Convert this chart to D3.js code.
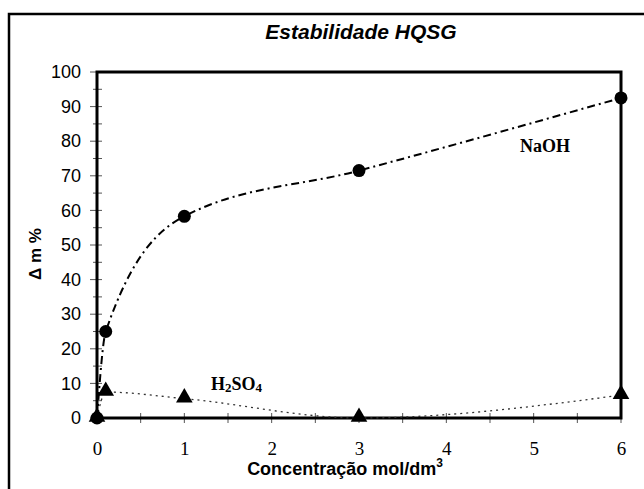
<!DOCTYPE html>
<html>
<head>
<meta charset="utf-8">
<script src="https://cdn.jsdelivr.net/npm/d3@7"></script>
<style>
html,body{margin:0;padding:0;background:#fff;}
svg{display:block;}
</style>
</head>
<body>
<svg id="chart" width="644" height="489"></svg>
<script>
// Data
const concentrations = [0, 0.1, 1, 3, 6];
const naohValues = [0, 25, 58.3, 71.5, 92.5];
const h2so4Values = [0, 7.5, 5.6, 0, 6.6];
const xTicks = [0, 1, 2, 3, 4, 5, 6];
const yTicks = [0, 10, 20, 30, 40, 50, 60, 70, 80, 90, 100];
const titleText = "Estabilidade HQSG";
const xTitle = "Concentração mol/dm";
const yTitle = "Δ m %";

const svg = d3.select("#chart");
const m = {left: 97, right: 621, top: 72, bottom: 418};

// outer border
svg.append("rect").attr("x", 9).attr("y", 14).attr("width", 700).attr("height", 600)
  .attr("fill", "none").attr("stroke", "#000").attr("stroke-width", 2.5);

const x = d3.scaleLinear().domain([0, 6]).range([m.left, m.right]);
const y = d3.scaleLinear().domain([0, 100]).range([m.bottom, m.top]);

// title
svg.append("text").attr("x", 361).attr("y", 39).attr("text-anchor", "middle")
  .attr("font-family", "Liberation Sans, Arial, sans-serif").attr("font-size", 21)
  .attr("font-weight", "bold").attr("font-style", "italic").text(titleText);

// minor / major ticks
const g = svg.append("g");
const yMinor = d3.range(0, 101, 5);
g.selectAll("line.ym").data(yMinor).enter().append("line")
  .attr("x1", d => d % 10 === 0 ? x(0) - 7 : x(0) - 4)
  .attr("x2", d => x(0) + 5)
  .attr("y1", d => y(d)).attr("y2", d => y(d))
  .attr("stroke", "#555").attr("stroke-width", 1);
const xMinor = d3.range(0, 6.01, 0.5);
g.selectAll("line.xm").data(xMinor).enter().append("line")
  .attr("x1", d => x(d)).attr("x2", d => x(d))
  .attr("y1", y(0) - 5).attr("y2", y(0) + 5)
  .attr("stroke", "#555").attr("stroke-width", 1);

// axes (labels)
const yAxis = d3.axisLeft(y).tickValues(yTicks).tickSize(0).tickPadding(16).tickFormat(d3.format("d"));
const ya = svg.append("g").attr("transform", `translate(${m.left},0)`).call(yAxis);
ya.select(".domain").remove();
ya.selectAll("text").attr("font-family", "Liberation Sans, Arial, sans-serif").attr("font-size", 18).attr("fill", "#000");

const xAxis = d3.axisBottom(x).tickValues(xTicks).tickSize(0).tickPadding(24).tickFormat(d3.format("d"));
const xa = svg.append("g").attr("transform", `translate(0,${m.bottom})`).call(xAxis);
xa.select(".domain").remove();
xa.selectAll("text").attr("font-family", "Liberation Serif, Times New Roman, serif").attr("font-size", 19).attr("fill", "#000");

// plot frame
svg.append("rect").attr("x", m.left).attr("y", m.top)
  .attr("width", m.right - m.left).attr("height", m.bottom - m.top)
  .attr("fill", "none").attr("stroke", "#000").attr("stroke-width", 3);

// axis titles
const xt = svg.append("text").attr("x", 345).attr("y", 475).attr("text-anchor", "middle")
  .attr("font-family", "Liberation Sans, Arial, sans-serif").attr("font-size", 18)
  .attr("font-weight", "bold");
xt.append("tspan").text(xTitle);
xt.append("tspan").attr("dy", -8).attr("font-size", 12).text("3");

svg.append("text").attr("transform", "translate(41,254) rotate(-90)").attr("text-anchor", "middle")
  .attr("font-family", "Liberation Sans, Arial, sans-serif").attr("font-size", 17)
  .attr("font-weight", "bold").text(yTitle);

// lines
const naoh = concentrations.map((c, i) => [c, naohValues[i]]);
const h2so4 = concentrations.map((c, i) => [c, h2so4Values[i]]);
const line = d3.line().x(d => x(d[0])).y(d => y(d[1])).curve(d3.curveMonotoneX);

svg.append("path").datum(h2so4).attr("d", line).attr("fill", "none")
  .attr("stroke", "#333").attr("stroke-width", 1.3).attr("stroke-dasharray", "2,4");
svg.append("path").datum(naoh).attr("d", line).attr("fill", "none")
  .attr("stroke", "#000").attr("stroke-width", 2).attr("stroke-dasharray", "8,4,2,4");

// markers
svg.selectAll("circle.naoh").data(naoh).enter().append("circle")
  .attr("cx", d => x(d[0])).attr("cy", d => y(d[1])).attr("r", 6.5).attr("fill", "#000");
const tri = d3.symbol().type(d3.symbolTriangle).size(120);
svg.selectAll("path.tri").data(h2so4).enter().append("path")
  .attr("d", tri).attr("transform", d => `translate(${x(d[0])},${y(d[1]) - 1})`).attr("fill", "#000");

// series labels
svg.append("text").attr("x", 520).attr("y", 152)
  .attr("font-family", "Liberation Serif, Times New Roman, serif").attr("font-size", 18)
  .attr("font-weight", "bold").text("NaOH");
const hl = svg.append("text").attr("x", 211).attr("y", 390)
  .attr("font-family", "Liberation Serif, Times New Roman, serif").attr("font-size", 18)
  .attr("font-weight", "bold");
hl.append("tspan").text("H");
hl.append("tspan").attr("font-size", 13).attr("dy", 2).text("2");
hl.append("tspan").attr("dy", -2).text("SO");
hl.append("tspan").attr("font-size", 13).attr("dy", 2).text("4");
</script>
</body>
</html>
